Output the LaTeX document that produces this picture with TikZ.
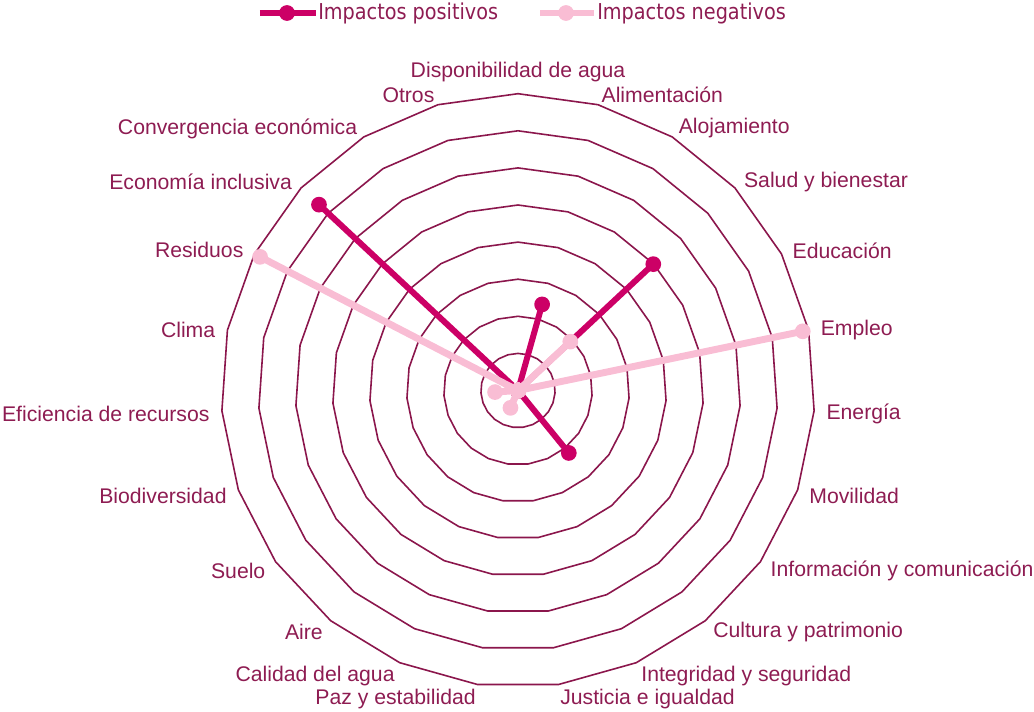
\documentclass[tikz,border=0pt]{standalone}
\usepackage{fontspec}
\setmainfont{Liberation Sans}
\newfontfamily\legendfont{DejaVu Sans}[FakeStretch=0.88]
\definecolor{gridred}{RGB}{139,22,76}
\definecolor{textred}{RGB}{142,28,82}
\definecolor{posred}{RGB}{204,0,102}
\definecolor{negpink}{RGB}{249,189,212}

\begin{document}
\begin{tikzpicture}[x=0.75pt,y=0.75pt,
    ring/.style={draw=gridred, line width=1.2pt},
    axlabel/.style={text=textred, inner sep=0pt, yshift=-1.5pt, font=\fontsize{15.9}{19}\selectfont},
    legtext/.style={text=textred, inner sep=0pt, anchor=west, font=\legendfont\fontsize{16.4}{19}\selectfont},
    posline/.style={draw=posred, line width=4.5pt, line join=round, line cap=round},
    negline/.style={draw=negpink, line width=5.2pt, line join=round, line cap=round},
    posdot/.style={circle, fill=posred, inner sep=0pt, minimum size=11.8pt},
    negdot/.style={circle, fill=negpink, inner sep=0pt, minimum size=11.8pt}]
    \useasboundingbox (-518,-320.5) rectangle (516,390.5);

    % rings
    \foreach \k in {1,...,8}
        \draw[ring] (90:{\k*37.1}) \foreach \i in {1,...,22} {-- ({90-\i*360/23}:{\k*37.1})} -- cycle;

    % axis labels
    \node[axlabel, anchor=south] (l0) at (90:310) {Disponibilidad de agua};
    \foreach \txt [count=\k] in {Alimentación, Alojamiento, Salud y bienestar, Educación,
        Empleo, Energía, Movilidad, Información y comunicación, Cultura y patrimonio,
        Integridad y seguridad, Justicia e igualdad}
        \node[axlabel, anchor=west] (l\k) at ({90-\k*360/23}:309) {\txt};
    \foreach \txt [count=\k from 12] in {Paz y estabilidad, Calidad del agua, Aire, Suelo,
        Biodiversidad, Eficiencia de recursos, Clima, Residuos, Economía inclusiva,
        Convergencia económica, Otros}
        \node[axlabel, anchor=east] (l\k) at ({90-\k*360/23}:309) {\txt};

    % impactos positivos
    \foreach \v [count=\i from 0] in {0,2.41,0,4.99,0,0,0,0,0,2.17,0,0,0,0,0,0,0,0,0,0,7.34,0,0}
        \coordinate (p\i) at ({90-\i*360/23}:{\v*37.1});
    \draw[posline] (p0) \foreach \i in {1,...,22} {-- (p\i)} -- cycle;
    \foreach \i in {0,...,22}
        \node[posdot] (pd\i) at (p\i) {};

    % impactos negativos
    \foreach \v [count=\i from 0] in {0,0,0,1.93,0,7.84,0,0,0,0,0,0,0,0.51,0,0,0,0.62,0,7.83,0,0,0}
        \coordinate (n\i) at ({90-\i*360/23}:{\v*37.1});
    \draw[negline] (n0) \foreach \i in {1,...,22} {-- (n\i)} -- cycle;
    \foreach \i in {0,...,22}
        \node[negdot] (nd\i) at (n\i) {};

    % legend
    \coordinate (pa) at (-258,377.5);
    \coordinate (pb) at (-202,377.5);
    \draw[posline, line cap=butt] (pa) -- (pb);
    \node[posdot] (pm) at (-231,377.5) {};
    \node[legtext] (pt) at (-200,377.5) {Impactos positivos};
    \coordinate (na) at (22,377.5);
    \coordinate (nb) at (76,377.5);
    \draw[negline, line cap=butt] (na) -- (nb);
    \node[negdot] (nm) at (48,377.5) {};
    \node[legtext] (nt) at (79,377.5) {Impactos negativos};
\end{tikzpicture}
\end{document}
